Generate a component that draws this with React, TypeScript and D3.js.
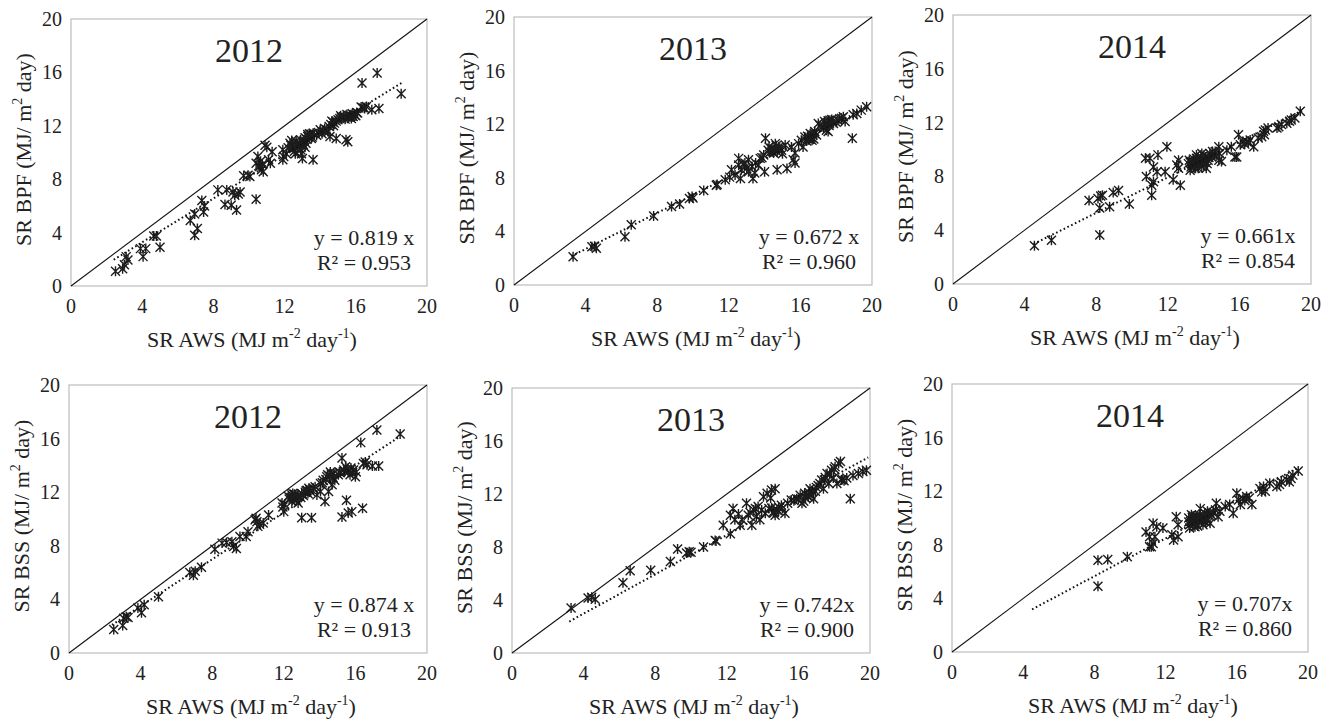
import React from "react";
import * as d3 from "d3";

type Pt = [number, number];

// ---------- data ----------
const years = ["2012", "2013", "2014", "2012", "2013", "2014"];
const yLabelNames = ["BPF", "BPF", "BPF", "BSS", "BSS", "BSS"];
const slopes = ["0.819 x", "0.672 x", "0.661x", "0.874 x", "0.742x", "0.707x"];
const slopeValues = [0.819, 0.672, 0.661, 0.874, 0.742, 0.707];
const r2Values = ["0.953", "0.960", "0.854", "0.913", "0.900", "0.860"];
const trendXMin = [2.4, 3.2, 4.5, 2.4, 3.2, 4.5];
const trendXMax = [18.6, 19.8, 19.5, 18.5, 19.9, 19.5];
const tickValues = [0, 4, 8, 12, 16, 20];

const bpf2012: Pt[] = [
  [2.5, 1.1], [2.9, 1.3], [3.0, 1.6], [3.1, 2.2], [3.2, 1.95], [3.9, 2.8], [4.05, 2.2], [4.2, 2.8],
  [4.65, 3.75], [4.8, 3.75], [5.0, 2.9], [6.7, 4.9], [6.95, 5.4], [6.95, 3.8], [7.1, 4.3],
  [7.35, 6.4], [7.45, 5.55], [7.5, 6.0], [8.25, 7.2], [8.65, 6.1], [8.75, 7.2], [9.0, 6.05],
  [9.1, 7.05], [9.2, 6.8], [9.3, 5.7], [9.4, 6.9], [9.5, 7.05], [9.7, 8.25], [9.95, 8.3],
  [10.05, 8.2], [10.4, 6.5], [10.4, 9.2], [10.5, 9.7], [10.55, 9.0], [10.6, 8.95], [10.7, 8.7],
  [10.8, 8.55], [10.9, 10.55], [11.0, 10.4], [11.1, 9.45], [11.2, 9.2], [11.3, 10.05],
  [11.9, 10.2], [11.9, 9.45], [12.1, 9.9], [12.3, 10.7], [12.4, 10.9], [12.5, 10.3], [12.6, 9.9],
  [12.7, 10.7], [12.85, 10.7], [12.95, 9.9], [13.0, 9.55], [13.1, 10.9], [13.2, 10.7], [13.3, 11.2],
  [13.4, 11.4], [13.5, 11.05], [13.6, 9.45], [13.8, 11.3], [14.0, 11.7], [14.1, 11.4], [14.25, 11.8],
  [14.45, 11.55], [14.55, 11.2], [14.6, 12.1], [14.7, 12.3], [14.8, 12.2], [14.9, 11.05],
  [15.0, 12.45], [15.1, 12.55], [15.3, 12.7], [15.45, 10.95], [15.55, 10.8], [15.65, 12.8],
  [15.75, 12.55], [15.85, 12.7], [15.95, 12.8], [16.1, 12.95], [16.35, 15.2], [16.5, 13.3],
  [16.6, 13.45], [16.9, 13.2], [17.2, 15.95], [17.3, 13.3], [18.55, 14.4],
  [12.45, 10.5], [12.55, 10.1], [12.75, 10.45], [13.05, 10.6], [13.25, 11.0], [13.35, 11.25],
  [13.45, 11.35], [13.55, 11.15], [13.9, 11.5], [14.35, 11.7], [14.5, 11.95], [14.75, 12.0],
  [15.2, 12.6], [15.4, 12.5], [15.6, 12.65], [15.8, 12.9], [16.0, 12.75], [16.4, 13.35],
  [10.65, 9.35], [10.75, 9.1], [12.2, 10.35], [11.95, 9.7],
  [12.35, 10.55], [12.65, 10.85], [12.9, 10.95], [13.15, 11.1], [13.3, 11.35], [13.6, 11.45],
  [14.2, 11.6], [14.65, 12.35], [14.9, 12.35], [15.15, 12.75], [15.5, 12.85], [15.7, 12.7],
  [16.05, 13.0], [16.3, 13.4], [12.9, 10.2], [13.15, 10.4],
];

const bpf2013: Pt[] = [
  [3.3, 2.1], [4.35, 2.85], [4.5, 2.9], [4.6, 2.75], [6.2, 3.6], [6.55, 4.5], [7.8, 5.15],
  [8.8, 5.85], [9.25, 6.05], [9.8, 6.45], [9.95, 6.6], [10.0, 6.5], [10.6, 7.05], [11.3, 7.45],
  [11.35, 7.5], [11.8, 7.85], [12.05, 8.05], [12.15, 8.6], [12.35, 8.2], [12.55, 9.45],
  [12.55, 8.95], [12.65, 7.95], [12.7, 8.6], [12.9, 9.1], [13.1, 9.35], [13.1, 8.45],
  [13.3, 8.85], [13.35, 7.95], [13.45, 8.35], [13.65, 8.95], [13.75, 9.45], [13.95, 9.7],
  [14.0, 8.45], [14.05, 10.95], [14.2, 10.05], [14.4, 10.2], [14.5, 9.85], [14.6, 10.55],
  [14.7, 9.95], [14.7, 8.6], [14.8, 10.3], [14.95, 10.05], [15.15, 10.45], [15.25, 8.7],
  [15.5, 10.3], [15.6, 9.35], [15.7, 9.85], [15.7, 9.1], [15.9, 10.55], [16.05, 10.8],
  [16.15, 10.3], [16.25, 11.05], [16.45, 10.95], [16.55, 11.3], [16.65, 10.8], [16.7, 11.2],
  [16.8, 11.45], [17.0, 12.05], [17.2, 11.8], [17.35, 12.2], [17.45, 11.55], [17.55, 11.45],
  [17.65, 12.3], [17.85, 12.05], [18.1, 12.3], [18.3, 12.45], [18.5, 12.2], [18.9, 10.95],
  [18.95, 12.7], [19.15, 12.8], [19.4, 13.05], [19.7, 13.3],
  [14.3, 9.9], [14.55, 10.15], [14.85, 10.2], [15.0, 9.8], [16.35, 10.75], [16.6, 11.0],
  [16.9, 11.2], [17.1, 11.9], [17.5, 12.1], [17.75, 12.35], [18.0, 12.15], [18.2, 12.4],
  [13.5, 9.1], [13.85, 9.5], [14.25, 10.3], [16.75, 10.9], [17.3, 11.7], [17.6, 11.9],
  [16.4, 11.1], [16.5, 10.85], [16.8, 11.3], [17.4, 12.0], [17.55, 12.25], [17.8, 12.2],
  [18.4, 12.55], [14.45, 9.95], [14.65, 10.4], [14.75, 10.1], [12.8, 9.0], [13.0, 8.7],
];

const bpf2014: Pt[] = [
  [4.55, 2.85], [5.5, 3.25], [7.6, 6.2], [8.1, 6.35], [8.25, 6.55], [8.35, 6.6], [8.2, 5.65],
  [8.2, 3.65], [8.75, 5.75], [8.95, 6.8], [9.25, 6.95], [9.85, 5.95], [10.75, 9.35], [11.0, 9.35],
  [11.45, 9.6], [11.95, 10.2], [10.8, 8.0], [11.2, 8.7], [11.4, 8.35], [11.1, 7.35], [11.2, 7.6],
  [11.1, 6.6], [11.85, 8.35], [12.3, 7.75], [12.6, 9.2], [12.6, 8.6], [12.7, 7.35], [12.5, 8.85],
  [13.15, 8.95], [13.25, 8.45], [13.35, 9.1], [13.5, 8.85], [13.6, 9.35], [13.7, 8.6], [13.8, 9.1],
  [13.9, 9.7], [14.0, 8.85], [14.1, 9.45], [14.15, 8.6], [14.25, 9.2], [14.35, 9.7], [14.45, 9.45],
  [14.65, 9.85], [14.85, 10.2], [14.85, 9.2], [15.0, 9.1], [14.9, 9.7], [15.3, 9.95], [15.55, 10.2],
  [15.75, 9.45], [15.95, 11.1], [15.85, 9.45], [16.05, 10.35], [16.2, 10.6], [16.4, 10.6],
  [16.6, 10.7], [16.8, 10.2], [17.05, 10.85], [17.25, 10.95], [17.35, 11.35], [17.45, 11.45],
  [17.6, 11.6], [18.1, 11.6], [18.35, 11.85], [18.65, 11.95], [18.9, 12.2], [19.1, 12.35],
  [19.4, 12.85],
  [13.2, 9.2], [13.4, 9.0], [13.45, 9.3], [13.55, 9.05], [13.65, 9.25], [13.75, 8.95], [13.85, 9.3],
  [13.95, 9.15], [14.05, 9.3], [13.3, 8.7], [13.55, 8.6], [13.6, 9.6], [14.2, 8.95], [14.5, 9.85],
  [14.7, 9.5], [16.3, 10.4], [16.5, 10.5], [17.4, 11.1], [18.2, 11.7], [18.8, 12.1],
  [13.25, 9.05], [13.45, 8.7], [13.7, 9.45], [13.75, 9.2], [14.0, 9.55], [14.1, 9.05],
  [14.3, 9.4], [13.35, 8.85], [13.9, 8.75], [14.6, 9.6],
];

const bss2012: Pt[] = [
  [2.5, 1.75], [3.0, 2.05], [3.05, 2.6], [3.2, 2.7], [3.3, 2.65], [3.85, 3.35], [4.05, 3.0],
  [4.2, 3.6], [5.0, 4.2], [6.75, 6.0], [6.95, 5.8], [7.05, 6.1], [7.4, 6.4], [8.15, 7.75],
  [8.55, 8.2], [8.8, 8.25], [9.1, 8.3], [9.2, 7.95], [9.35, 7.8], [9.55, 8.7], [9.9, 8.7],
  [10.0, 9.05], [10.4, 9.95], [10.55, 9.45], [10.85, 9.7], [11.15, 10.3], [11.9, 11.2],
  [12.0, 10.55], [12.25, 11.7], [12.45, 11.3], [12.45, 11.8], [12.6, 11.55], [12.8, 11.2],
  [12.8, 11.8], [13.0, 10.1], [13.3, 12.15], [13.35, 11.9], [13.55, 10.1], [13.65, 12.3],
  [13.85, 11.8], [14.05, 12.65], [14.05, 12.05], [14.2, 12.9], [14.3, 11.3], [14.4, 13.15],
  [14.5, 12.05], [14.6, 13.5], [14.7, 12.55], [14.8, 13.4], [14.85, 12.9], [15.05, 13.3],
  [15.25, 14.55], [15.25, 10.15], [15.35, 13.65], [15.45, 13.9], [15.5, 11.4], [15.6, 13.5],
  [15.6, 10.45], [15.7, 13.3], [15.8, 10.55], [15.9, 13.65], [16.0, 13.15], [16.3, 15.7],
  [16.4, 10.8], [16.45, 14.15], [16.65, 14.05], [16.95, 13.95], [17.2, 16.65], [17.3, 13.95],
  [18.5, 16.35],
  [12.3, 11.5], [12.5, 11.9], [12.55, 11.65], [12.7, 11.4], [12.95, 11.6], [13.1, 11.75],
  [13.2, 12.0], [13.45, 12.2], [13.5, 12.05], [13.75, 12.4], [14.15, 12.7], [14.35, 12.95],
  [14.55, 13.2], [14.75, 13.1], [15.1, 13.5], [15.4, 13.55], [15.75, 13.8], [10.5, 9.8],
  [10.45, 10.05], [10.65, 9.6], [12.05, 11.1], [11.95, 10.9], [16.55, 14.25],
  [12.4, 11.6], [12.6, 11.85], [12.75, 11.6], [13.0, 11.9], [13.25, 12.1], [13.4, 12.3],
  [14.45, 13.3], [14.65, 13.35], [15.15, 13.45], [15.55, 13.7], [15.85, 13.45], [16.05, 13.5],
];

const bss2013: Pt[] = [
  [3.3, 3.4], [4.25, 4.15], [4.45, 4.2], [4.65, 4.05], [6.2, 5.3], [6.6, 6.2], [7.75, 6.25],
  [8.85, 6.9], [9.25, 7.85], [9.75, 7.55], [9.9, 7.65], [10.0, 7.6], [10.7, 8.0], [11.35, 8.5],
  [11.4, 8.45], [11.8, 9.65], [12.2, 10.4], [12.35, 10.9], [12.45, 10.05], [12.2, 9.0], [12.65, 10.5],
  [12.75, 9.65], [12.85, 10.05], [13.1, 11.3], [13.2, 10.4], [13.4, 9.65], [13.5, 10.8],
  [13.65, 10.3], [13.75, 11.05], [13.85, 10.05], [13.95, 10.8], [14.05, 11.8], [14.15, 10.55],
  [14.25, 12.05], [14.5, 12.3], [14.6, 10.65], [14.7, 12.4], [14.8, 10.8], [14.7, 10.4],
  [15.05, 11.15], [15.25, 10.55], [15.6, 11.55], [15.9, 11.65], [16.1, 11.9], [16.2, 11.3],
  [16.35, 12.05], [16.55, 11.8], [16.65, 12.4], [16.85, 11.65], [17.1, 12.65], [17.3, 13.05],
  [17.4, 12.4], [17.6, 13.55], [17.7, 12.8], [17.85, 13.8], [18.05, 14.05], [18.25, 14.3],
  [18.35, 14.45], [18.15, 12.8], [18.4, 13.05], [18.7, 13.2], [18.9, 11.65], [19.05, 13.4],
  [19.35, 13.55], [19.6, 13.7], [19.8, 13.8],
  [14.35, 10.9], [14.9, 11.0], [15.4, 11.3], [15.75, 11.5], [16.0, 11.6], [16.4, 11.7],
  [16.7, 11.95], [16.95, 12.2], [17.5, 13.25], [17.75, 13.5], [17.95, 13.2], [18.55, 13.0],
  [13.3, 10.6], [13.6, 10.9], [14.45, 11.7], [16.3, 11.45],
  [16.45, 11.9], [16.6, 12.1], [16.75, 12.25], [17.0, 12.5], [17.2, 12.8], [17.45, 13.05],
  [18.0, 13.9], [18.45, 13.1], [14.5, 10.95], [14.65, 10.6], [14.9, 10.7], [15.1, 10.9],
];

const bss2014: Pt[] = [
  [8.2, 6.85], [8.75, 6.9], [8.2, 4.9], [9.85, 7.1], [11.1, 7.85], [10.9, 8.95], [11.3, 9.6],
  [11.4, 8.6], [11.5, 9.35], [11.85, 9.25], [12.35, 8.75], [12.45, 8.35], [12.6, 10.1], [12.7, 9.5],
  [12.7, 8.6], [11.1, 8.6], [11.3, 8.1], [11.2, 7.85], [13.3, 10.0], [13.35, 9.5], [13.45, 10.25],
  [13.55, 9.75], [13.65, 9.35], [13.75, 10.1], [13.85, 9.75], [13.95, 10.7], [14.05, 10.0],
  [14.1, 9.5], [14.2, 10.35], [14.3, 9.85], [14.4, 10.25], [14.5, 9.6], [14.7, 10.35], [14.85, 11.1],
  [14.95, 10.1], [15.05, 10.5], [15.35, 10.85], [15.6, 11.0], [15.8, 10.35], [16.0, 11.85],
  [16.1, 11.35], [16.2, 11.0], [16.35, 11.45], [16.55, 11.6], [16.85, 11.0], [17.3, 12.2],
  [17.4, 11.95], [17.5, 12.35], [17.85, 12.6], [18.25, 12.35], [18.5, 12.7], [18.8, 12.85],
  [19.05, 12.95], [19.15, 13.2], [19.45, 13.5],
  [13.4, 9.75], [13.5, 10.05], [13.6, 9.9], [13.7, 9.6], [13.8, 9.95], [13.9, 10.2], [14.0, 9.7],
  [14.15, 10.1], [14.25, 9.7], [13.35, 9.25], [13.8, 9.4], [14.35, 10.5], [14.8, 10.6],
  [16.45, 11.3], [16.7, 11.5], [17.6, 12.0], [18.4, 12.5], [18.95, 12.7],
  [13.45, 9.6], [13.55, 10.15], [13.65, 9.8], [13.75, 9.5], [13.85, 10.05], [14.1, 9.8],
  [14.35, 9.95], [14.45, 10.4], [13.3, 9.7], [14.6, 10.2],
];

const panelData: Pt[][] = [bpf2012, bpf2013, bpf2014, bss2012, bss2013, bss2014];

// ---------- layout ----------
const boxes = [
  { x0: 71, x1: 427, y0: 19, y1: 286 },
  { x0: 514, x1: 872, y0: 17, y1: 285 },
  { x0: 953, x1: 1311, y0: 15, y1: 284 },
  { x0: 69, x1: 427, y0: 385, y1: 653 },
  { x0: 512, x1: 870, y0: 388, y1: 653 },
  { x0: 952, x1: 1308, y0: 384, y1: 652 },
];

const FONT = "Liberation Serif, Times New Roman, Times, serif";
const INK = "#222";
const STAR = "M-4.5,-4.5L4.5,4.5M-4.5,4.5L4.5,-4.5M0,-5L0,5";

function T(props: any) {
  const { size, children, ...rest } = props;
  return (
    <text {...rest} style={{ fontFamily: FONT, fontSize: size + "px", fill: INK }}>
      {children}
    </text>
  );
}

function Panel({ i }: { i: number }) {
  const b = boxes[i];
  const x = d3.scaleLinear().domain([0, 20]).range([b.x0, b.x1]);
  const y = d3.scaleLinear().domain([0, 20]).range([b.y1, b.y0]);
  const line = d3.line<Pt>().x((d) => x(d[0])).y((d) => y(d[1]));
  const s = slopeValues[i];
  const trend: Pt[] = [
    [trendXMin[i], s * trendXMin[i]],
    [trendXMax[i], s * trendXMax[i]],
  ];
  const cx = (b.x0 + b.x1) / 2;
  const cy = (b.y0 + b.y1) / 2;
  return (
    <g>
      <rect x={b.x0} y={b.y0} width={b.x1 - b.x0} height={b.y1 - b.y0} fill="white" stroke="#bdbdbd" strokeWidth={1.2} />
      <path d={line([[0, 0], [20, 20]]) || ""} stroke="#111" strokeWidth={1.1} fill="none" />
      {panelData[i].map((d, k) => (
        <path key={k} d={STAR} transform={`translate(${x(d[0])},${y(d[1])})`} stroke="#1c1c1c" strokeWidth={1.4} fill="none" />
      ))}
      <path d={line(trend) || ""} stroke="#111" strokeWidth={2} strokeDasharray="1.6 2.6" fill="none" />
      {tickValues.map((t) => (
        <T key={"x" + t} x={x(t)} y={b.y1 + 27} textAnchor="middle" size={20}>{t}</T>
      ))}
      {tickValues.map((t) => (
        <T key={"y" + t} x={b.x0 - 9} y={y(t) + 7} textAnchor="end" size={20}>{t}</T>
      ))}
      <T x={cx} y={b.y0 + 43} textAnchor="middle" size={34}>{years[i]}</T>
      <T x={b.x1 - 63} y={b.y1 - 41} textAnchor="middle" size={22}>{"y = " + slopes[i]}</T>
      <T x={b.x1 - 63} y={b.y1 - 16} textAnchor="middle" size={22}>{"R² = " + r2Values[i]}</T>
      <T x={cx + 3} y={b.y1 + 61} textAnchor="middle" size={22}>
        SR AWS (MJ m<tspan style={{ fontSize: "14px" }} dy={-9}>-2</tspan>
        <tspan dy={9}> day</tspan>
        <tspan style={{ fontSize: "14px" }} dy={-9}>-1</tspan>
        <tspan dy={9}>)</tspan>
      </T>
      <T transform={`translate(${b.x0 - 40},${cy - 3}) rotate(-90)`} textAnchor="middle" size={22}>
        {"SR " + yLabelNames[i] + " (MJ/ m"}
        <tspan style={{ fontSize: "14px" }} dy={-9}>2</tspan>
        <tspan dy={9}> day)</tspan>
      </T>
    </g>
  );
}

export default function App() {
  return (
    <svg width={1335} height={720} style={{ position: "absolute", left: 0, top: 0, background: "white" }}>
      <rect width={1335} height={720} fill="white" />
      {boxes.map((_, i) => (
        <Panel key={i} i={i} />
      ))}
    </svg>
  );
}
